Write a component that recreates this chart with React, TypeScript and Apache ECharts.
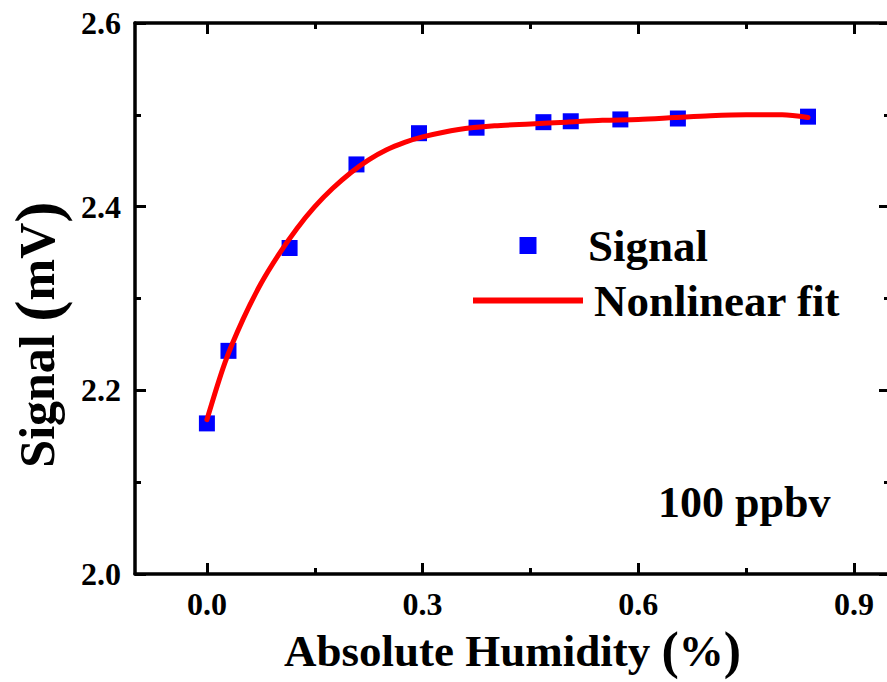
import React, { useEffect, useRef } from "react";
import * as echarts from "echarts";

const signalX = [0.0, 0.03, 0.115, 0.208, 0.295, 0.375, 0.468, 0.506, 0.575, 0.655, 0.836];
const signalY = [2.164, 2.243, 2.355, 2.446, 2.48, 2.486, 2.492, 2.493, 2.495, 2.496, 2.498];

const fitX = [0, 0.025, 0.05, 0.075, 0.1, 0.125, 0.15, 0.175, 0.2, 0.225, 0.25, 0.275, 0.3, 0.35, 0.4, 0.45, 0.5, 0.55, 0.6, 0.65, 0.7, 0.75, 0.8, 0.836];
const fitY = [2.168, 2.23, 2.277, 2.316, 2.348, 2.376, 2.4, 2.42, 2.437, 2.451, 2.462, 2.47, 2.476, 2.484, 2.488, 2.49, 2.492, 2.494, 2.495, 2.497, 2.499, 2.5, 2.5, 2.497];

const xMajor = [0, 0.3, 0.6, 0.9];
const xMinor = [0.15, 0.45, 0.75];
const yMajor = [2.0, 2.2, 2.4, 2.6];
const yMinor = [2.1, 2.3, 2.5];

const FONT = '"Times New Roman", "Liberation Serif", serif';

export default function App() {
  const ref = useRef<HTMLDivElement>(null);
  useEffect(() => {
    document.body.style.margin = "0";
    if (!ref.current) return;
    const chart = echarts.init(ref.current, null, { renderer: "svg" });
    const lineStyle = { color: "#000", width: 3.5 };
    const tickMajor = { show: true, inside: true, length: 11, lineStyle: { color: "#000", width: 3 } };
    const tickMinor = { show: true, inside: true, length: 6, lineStyle: { color: "#000", width: 3 } };
    const base = { type: "value" as const, min: -0.1, max: 0.95, splitLine: { show: false } };
    const ybase = { type: "value" as const, min: 2.0, max: 2.6, splitLine: { show: false } };
    const txt = (size: number) => ({ color: "#000", fontFamily: FONT, fontWeight: "bold", fontSize: size });
    const option: any = {
      animation: false,
      backgroundColor: "#fff",
      grid: { left: 135, top: 23, width: 755, height: 551, containLabel: false, outerBoundsMode: "none" },
      xAxis: [
        {
          ...base,
          position: "bottom",
          axisLine: { show: true, onZero: false, lineStyle },
          axisTick: { ...tickMajor, customValues: xMajor },
          axisLabel: {
            customValues: xMajor,
            formatter: (v: number) => v.toFixed(1),
            ...txt(32),
            margin: 14,
          },
          name: "{t|Absolute Humidity }{p|(}{t|%}{p|)}",
          nameLocation: "middle",
          nameGap: 38,
          nameTextStyle: {
            ...txt(44),
            rich: { t: { ...txt(45) }, p: { ...txt(52) } },
          },
        },
        { ...base, position: "bottom", axisLine: { show: false, onZero: false }, axisTick: { ...tickMinor, customValues: xMinor }, axisLabel: { show: false } },
        { ...base, position: "top", axisLine: { show: true, onZero: false, lineStyle }, axisTick: { ...tickMajor, customValues: xMajor }, axisLabel: { show: false } },
        { ...base, position: "top", axisLine: { show: false, onZero: false }, axisTick: { ...tickMinor, customValues: xMinor }, axisLabel: { show: false } },
      ],
      yAxis: [
        {
          ...ybase,
          position: "left",
          axisLine: { show: true, onZero: false, lineStyle },
          axisTick: { ...tickMajor, customValues: yMajor },
          axisLabel: {
            customValues: yMajor,
            formatter: (v: number) => v.toFixed(1),
            ...txt(32),
            margin: 14,
          },
          name: "{t|Signal }{p|(}{t|mV}{p|)}",
          nameLocation: "middle",
          nameGap: 66,
          nameTextStyle: {
            ...txt(48),
            padding: [0, 72, 0, 0],
            rich: { t: { ...txt(50) }, p: { ...txt(64) } },
          },
        },
        { ...ybase, position: "left", axisLine: { show: false, onZero: false }, axisTick: { ...tickMinor, customValues: yMinor }, axisLabel: { show: false } },
        { ...ybase, position: "right", axisLine: { show: true, onZero: false, lineStyle }, axisTick: { ...tickMajor, customValues: yMajor }, axisLabel: { show: false } },
        { ...ybase, position: "right", axisLine: { show: false, onZero: false }, axisTick: { ...tickMinor, customValues: yMinor }, axisLabel: { show: false } },
      ],
      legend: {
        orient: "vertical",
        left: 468,
        top: 218,
        itemWidth: 110,
        itemHeight: 17,
        itemGap: 10,
        symbolKeepAspect: true,
        textStyle: { ...txt(45), lineHeight: 45 },
        data: [
          { name: "Signal", icon: "path://M0,0 L10,0 L10,10 L0,10 Z", textStyle: { padding: [0, 0, 0, 0] } },
          { name: "Nonlinear fit", icon: "path://M0,0 L100,0 L100,5.5 L0,5.5 Z", textStyle: { padding: [0, 0, 0, 6] } },
        ],
      },
      graphic: [
        {
          type: "text",
          left: 658,
          top: 480,
          style: { text: "100 ppbv", fill: "#000", font: `bold 44px ${FONT}` },
        },
      ],
      series: [
        {
          name: "Signal",
          type: "scatter",
          symbol: "rect",
          symbolSize: 16,
          itemStyle: { color: "#0000ff", opacity: 1 },
          z: 2,
          data: signalX.map((x, i) => [x, signalY[i]]),
        },
        {
          name: "Nonlinear fit",
          type: "line",
          symbol: "none",
          smooth: 0.3,
          lineStyle: { color: "#ff0000", width: 5, cap: "round" },
          itemStyle: { color: "#ff0000" },
          z: 3,
          data: fitX.map((x, i) => [x, fitY[i]]),
        },
      ],
    };
    chart.setOption(option);
    return () => chart.dispose();
  }, []);
  return <div ref={ref} style={{ width: 887, height: 682, position: "absolute", left: 0, top: 0 }} />;
}
